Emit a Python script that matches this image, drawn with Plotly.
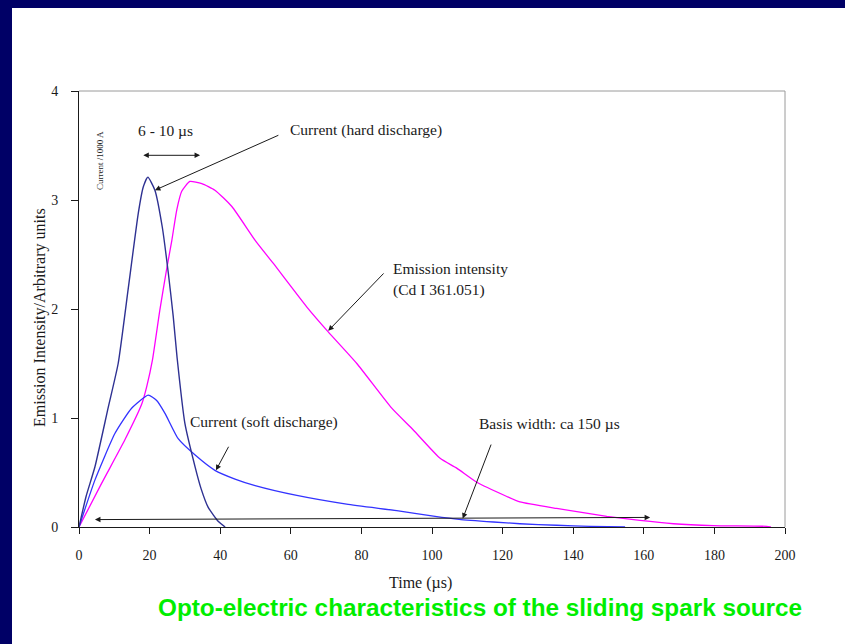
import plotly.graph_objects as go

# Time axis in microseconds, values in arbitrary units
hard_t = [0, 2, 4.5, 8.3, 11.1, 14.0, 16.8, 18.2, 19.5, 21.5, 23.6, 25.3, 26.7, 27.8,
          30.0, 32.9, 34.6, 36.6, 39.5, 41.4]
hard_i = [0, 0.28, 0.55, 1.10, 1.50, 2.20, 2.88, 3.12, 3.21, 3.09, 2.75, 2.33, 1.93, 1.55,
          0.95, 0.55, 0.35, 0.18, 0.05, 0]

soft_t = [0, 4.5, 10.2, 14.9, 19.6, 22.0, 24.4, 28.1, 32.9, 38.5, 44.2, 49.9, 61.7, 75.8,
          90.0, 100.4, 107.7, 117.4, 124.9, 135.3, 144.8, 154.7]
soft_i = [0, 0.43, 0.86, 1.09, 1.21, 1.16, 1.04, 0.81, 0.66, 0.52, 0.44, 0.38, 0.29, 0.21,
          0.15, 0.10, 0.07, 0.046, 0.03, 0.016, 0.006, 0]

emis_t = [0, 6.4, 13.0, 17.8, 19.2, 20.8, 22.9, 24.8, 26.3, 27.7, 29.1, 31.4, 34.8, 38.5,
          43.3, 49.9, 55.0, 64.5, 70.6, 78.7, 88.6, 94.7, 102.3, 107.0, 112.7, 121.2, 124.9,
          135.3, 149.5, 158.9, 168.4, 179.7, 194.8, 196.0]
emis_i = [0, 0.40, 0.80, 1.13, 1.29, 1.53, 1.99, 2.36, 2.63, 2.91, 3.08, 3.17, 3.15, 3.09,
          2.94, 2.63, 2.42, 2.02, 1.79, 1.50, 1.09, 0.89, 0.63, 0.54, 0.41, 0.28, 0.23,
          0.17, 0.098, 0.06, 0.03, 0.013, 0.006, 0]

x_ticks = [0, 20, 40, 60, 80, 100, 120, 140, 160, 180, 200]
y_ticks = [0, 1, 2, 3, 4]

NAVY = "#000066"
SERIF = "Liberation Serif, Times New Roman, serif"
INK = "#1a1a1a"
LABEL_SIZE = 15.5

fig = go.Figure()
fig.add_trace(go.Scatter(x=emis_t, y=emis_i, mode="lines",
                         line=dict(color="#FF00FF", width=1.3, shape="spline", smoothing=0.5),
                         name="Emission intensity"))
fig.add_trace(go.Scatter(x=soft_t, y=soft_i, mode="lines",
                         line=dict(color="#3333FF", width=1.3, shape="spline", smoothing=0.5),
                         name="Current (soft discharge)"))
fig.add_trace(go.Scatter(x=hard_t, y=hard_i, mode="lines",
                         line=dict(color="#2E3192", width=1.4, shape="spline", smoothing=0.5),
                         name="Current (hard discharge)"))

# plot area in pixels: left 79, right 785, top 91, bottom 527
L, R, T, B = 79, 785, 91, 527
W, H = 845, 644


def px_x(p):
    return (p - L) / (R - L)


def px_y(p):
    return (B - p) / (B - T)


shapes = [
    # slide frame: navy strips along the top and left edges
    dict(type="rect", xref="paper", yref="paper", x0=px_x(0), x1=px_x(W), y0=px_y(0), y1=px_y(8),
         fillcolor=NAVY, line=dict(width=0), layer="below"),
    dict(type="rect", xref="paper", yref="paper", x0=px_x(0), x1=px_x(12), y0=px_y(H), y1=px_y(0),
         fillcolor=NAVY, line=dict(width=0), layer="below"),
    # grey box on top and right of the plot area
    dict(type="line", xref="paper", yref="paper", x0=0, x1=1, y0=1, y1=1,
         line=dict(color="#9a9a9a", width=1)),
    dict(type="line", xref="paper", yref="paper", x0=1, x1=1, y0=0, y1=1,
         line=dict(color="#9a9a9a", width=1)),
]


def label(x, y, text, xanchor="left", size=LABEL_SIZE):
    return dict(x=x, y=y, xref="x", yref="y", text=text, showarrow=False,
                xanchor=xanchor, yanchor="middle", font=dict(family=SERIF, size=size, color=INK))


def arrow(x, y, ax, ay, both=False):
    return dict(x=x, y=y, ax=ax, ay=ay, xref="x", yref="y", axref="x", ayref="y",
                text="", showarrow=True, arrowhead=2, arrowsize=1.1, arrowwidth=1,
                arrowcolor=INK, arrowside="end+start" if both else "end")


def page_text(px, py, text, size, family=SERIF, color=INK, angle=0):
    return dict(x=px_x(px), y=px_y(py), xref="paper", yref="paper", showarrow=False,
                xanchor="center", yanchor="middle", text=text, textangle=angle,
                font=dict(family=family, size=size, color=color))


annotations = [
    label(24.4, 3.64, "6 - 10 µs", xanchor="center"),
    arrow(34.3, 3.41, 17.8, 3.41, both=True),
    label(59.2, 3.64, "Current (hard discharge)"),
    arrow(21.5, 3.09, 56.9, 3.60),
    label(88.3, 2.37, "Emission intensity"),
    label(88.3, 2.17, "(Cd I 361.051)"),
    arrow(70.6, 1.80, 86.7, 2.34),
    label(31.0, 0.96, "Current (soft discharge)"),
    arrow(38.8, 0.52, 42.6, 0.75),
    label(112.8, 0.95, "Basis width: ca 150 µs"),
    arrow(108.7, 0.077, 116.9, 0.77),
    arrow(161.8, 0.088, 4.1, 0.068, both=True),
    dict(x=6.0, y=3.36, xref="x", yref="y", text="Current /1000 A", showarrow=False,
         xanchor="center", yanchor="middle", textangle=-90,
         font=dict(family=SERIF, size=9, color=INK)),
    # axis titles
    page_text(40, 318, "Emission Intensity/Arbitrary units", 16, angle=-90),
    page_text(420, 583, "Time (µs)", 16),
    # caption
    page_text(480, 607, "<b>Opto-electric characteristics of the sliding spark source</b>", 24.3,
              family="Liberation Sans, Arial, sans-serif", color="#00EE00"),
]

fig.update_layout(
    width=W, height=H,
    margin=dict(l=L, r=W - R, t=T, b=H - B, pad=0),
    paper_bgcolor="white", plot_bgcolor="white",
    showlegend=False,
    shapes=shapes,
    annotations=annotations,
    xaxis=dict(range=[0, 200], tickvals=x_ticks, ticks="outside", ticklen=6, tickcolor=INK,
               showline=True, linecolor=INK, linewidth=1, showgrid=False, zeroline=False,
               tickfont=dict(family=SERIF, size=14, color=INK), ticklabelstandoff=9),
    yaxis=dict(range=[0, 4], tickvals=y_ticks, ticks="outside", ticklen=7, tickcolor=INK,
               showline=True, linecolor=INK, linewidth=1, showgrid=False, zeroline=False,
               tickfont=dict(family=SERIF, size=14, color=INK), ticklabelstandoff=10),
)

fig.write_html("out.html")
